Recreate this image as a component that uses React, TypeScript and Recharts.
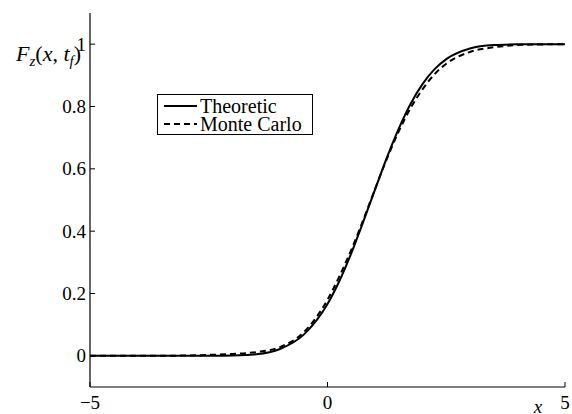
import { Label, Line, LineChart, XAxis, YAxis } from 'recharts';

const W = 572;
const H = 414;
const PLOT_LEFT = 90;
const PLOT_RIGHT = 565;
const PLOT_TOP = 13;
const PLOT_BOTTOM = 387;
const FONT = '"Liberation Serif", "DejaVu Serif", "Times New Roman", serif';

// x positions and the two CDF curves
const xs = [-5, -4, -3, -2.5, -2, -1.5, -1, -0.5, 0, 0.25, 0.5, 0.75, 1, 1.25, 1.5, 1.75, 2, 2.25, 2.5, 3, 3.5, 4, 4.5, 5];
const theoretic = [0, 0, 0, 0.0002, 0.001, 0.005, 0.022, 0.068, 0.166, 0.24, 0.329, 0.429, 0.533, 0.636, 0.729, 0.809, 0.872, 0.919, 0.952, 0.986, 0.997, 0.9994, 1, 1];
const monteCarlo = [0, 0, 0.001, 0.003, 0.006, 0.012, 0.028, 0.076, 0.18, 0.255, 0.34, 0.435, 0.535, 0.632, 0.72, 0.795, 0.855, 0.903, 0.937, 0.975, 0.99, 0.997, 0.999, 1];

const xTicks = [-5, 0, 5];
const yTicks = [0, 0.2, 0.4, 0.6, 0.8, 1];

const data = xs.map((x, i) => ({ x, theoretic: theoretic[i], monteCarlo: monteCarlo[i] }));

const fmtX = (v: number) => (v < 0 ? `\u2212${Math.abs(v)}` : String(v));

// MATLAB-style ticks point into the plot box
function BottomTick({ x, payload }: any) {
  return (
    <g>
      <line x1={x} x2={x} y1={PLOT_BOTTOM} y2={PLOT_BOTTOM - 5} stroke="#000" />
      <text x={x} y={PLOT_BOTTOM + 22} textAnchor="middle" fontSize={19} style={{ fontFamily: FONT }} fill="#000">
        {fmtX(payload.value)}
      </text>
    </g>
  );
}

function LeftTick({ y, payload }: any) {
  return (
    <g>
      <line x1={PLOT_LEFT} x2={PLOT_LEFT + 5} y1={y} y2={y} stroke="#000" />
      <text x={PLOT_LEFT - 4} y={y + 6.5} textAnchor="end" fontSize={19} style={{ fontFamily: FONT }} fill="#000">
        {String(payload.value)}
      </text>
    </g>
  );
}

function TopTick({ x }: any) {
  return <line x1={x} x2={x} y1={PLOT_TOP} y2={PLOT_TOP + 5} stroke="#000" />;
}

function RightTick({ y }: any) {
  return <line x1={PLOT_RIGHT - 5} x2={PLOT_RIGHT} y1={y} y2={y} stroke="#000" />;
}

function YTitle() {
  return (
    <text x={16} y={61} fontSize={22} style={{ fontFamily: FONT }} fill="#000">
      <tspan fontStyle="italic">F</tspan>
      <tspan fontStyle="italic" fontSize={15} dy={5}>z</tspan>
      <tspan dy={-5}>(</tspan>
      <tspan fontStyle="italic">x</tspan>
      <tspan>, </tspan>
      <tspan fontStyle="italic">t</tspan>
      <tspan fontStyle="italic" fontSize={15} dy={5}>f</tspan>
      <tspan dy={-5}>)</tspan>
    </text>
  );
}

function XTitle() {
  return (
    <text x={538} y={413} textAnchor="middle" fontSize={19} fontStyle="italic" style={{ fontFamily: FONT }} fill="#000">
      x
    </text>
  );
}

function LegendBox() {
  const row = { display: 'flex', alignItems: 'center', height: 18, whiteSpace: 'nowrap' } as const;
  return (
    <div
      style={{
        position: 'absolute',
        left: 157,
        top: 94,
        border: '1px solid #000',
        background: '#fff',
        padding: '2px 6px 1px 6px',
        fontFamily: FONT,
        fontSize: 20,
        lineHeight: '18px',
        color: '#000',
        width: 142,
      }}
    >
      <div style={row}>
        <svg width={34} height={10} style={{ marginRight: 2 }}>
          <line x1={0} x2={33} y1={5} y2={5} stroke="#000" strokeWidth={2} />
        </svg>
        Theoretic
      </div>
      <div style={row}>
        <svg width={34} height={10} style={{ marginRight: 2 }}>
          <line x1={0} x2={33} y1={5} y2={5} stroke="#000" strokeWidth={2} strokeDasharray="6 4" />
        </svg>
        Monte Carlo
      </div>
    </div>
  );
}

export default function App() {
  return (
    <div style={{ position: 'absolute', left: 0, top: 0, width: W, height: H, background: '#fff' }}>
      <LineChart
        width={W}
        height={H}
        data={data}
        margin={{ top: PLOT_TOP, right: W - PLOT_RIGHT, bottom: 0, left: 0 }}
      >
        <XAxis
          xAxisId="b"
          type="number"
          dataKey="x"
          domain={[-5, 5]}
          ticks={xTicks}
          height={H - PLOT_BOTTOM}
          tickSize={0}
          tickLine={false}
          axisLine={{ stroke: '#000', strokeWidth: 1.2 }}
          tick={<BottomTick />}
          interval={0}
          allowDataOverflow
        >
          <Label content={<XTitle />} />
        </XAxis>
        <XAxis
          xAxisId="t"
          orientation="top"
          type="number"
          dataKey="x"
          domain={[-5, 5]}
          ticks={xTicks}
          height={0}
          tickSize={0}
          tickLine={false}
          axisLine={{ stroke: '#000', strokeWidth: 1.2 }}
          tick={<TopTick />}
          interval={0}
        />
        <YAxis
          yAxisId="l"
          type="number"
          domain={[-0.1, 1.1]}
          ticks={yTicks}
          width={PLOT_LEFT}
          tickSize={0}
          tickLine={false}
          axisLine={{ stroke: '#000', strokeWidth: 1.2 }}
          tick={<LeftTick />}
          interval={0}
          allowDataOverflow
        >
          <Label content={<YTitle />} />
        </YAxis>
        <YAxis
          yAxisId="r"
          orientation="right"
          type="number"
          domain={[-0.1, 1.1]}
          ticks={yTicks}
          width={0}
          tickSize={0}
          tickLine={false}
          axisLine={{ stroke: '#000', strokeWidth: 1.2 }}
          tick={<RightTick />}
          interval={0}
        />
        <Line
          xAxisId="b"
          yAxisId="l"
          type="monotone"
          dataKey="theoretic"
          stroke="#000"
          strokeWidth={2}
          dot={false}
          isAnimationActive={false}
        />
        <Line
          xAxisId="b"
          yAxisId="l"
          type="monotone"
          dataKey="monteCarlo"
          stroke="#000"
          strokeWidth={2}
          strokeDasharray="6 4"
          dot={false}
          isAnimationActive={false}
        />
      </LineChart>
      <LegendBox />
    </div>
  );
}
